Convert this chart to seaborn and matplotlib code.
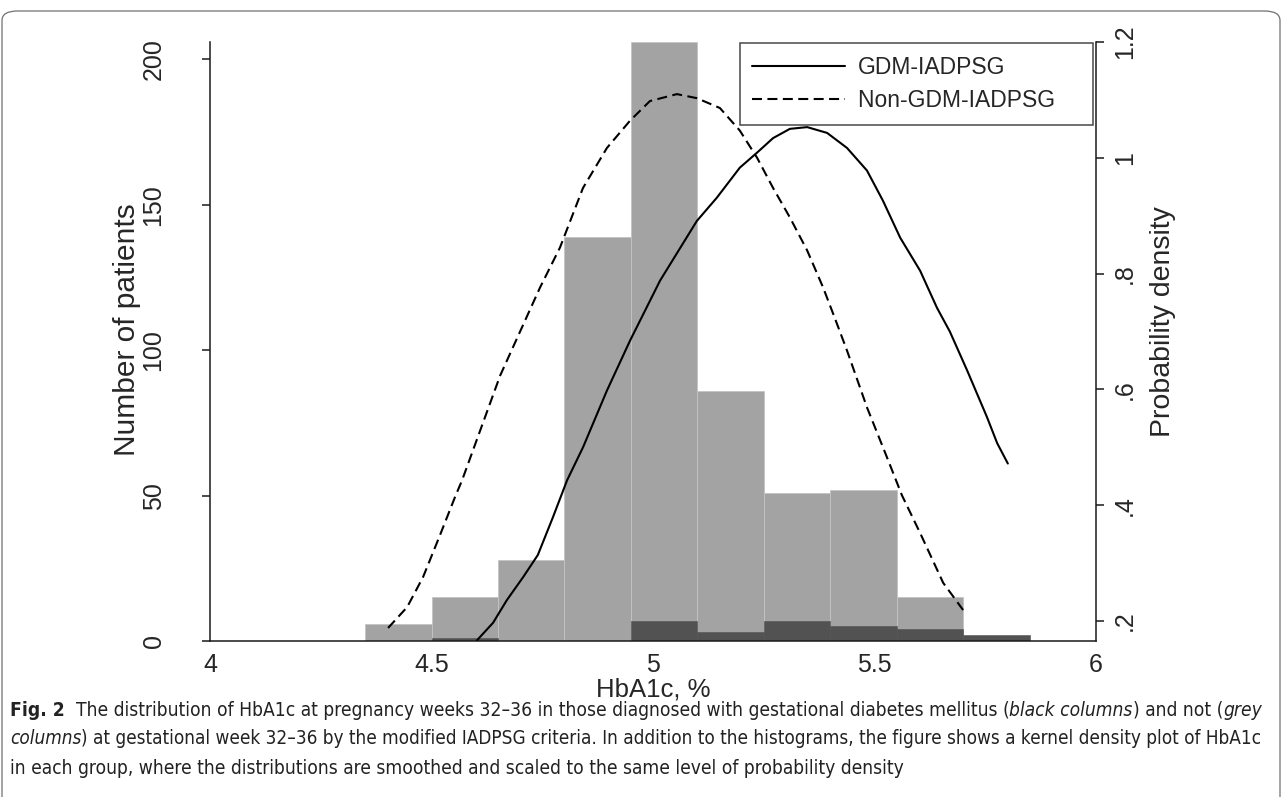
import matplotlib
matplotlib.use('Agg')
import matplotlib.pyplot as plt
from matplotlib.patches import FancyBboxPatch
import seaborn as sns

# Histogram bins (HbA1c, %) and counts
bin_edges = [4.35, 4.50, 4.65, 4.80, 4.95, 5.10, 5.25, 5.40, 5.55, 5.70, 5.85]
non_gdm_counts = [6, 15, 28, 139, 206, 86, 51, 52, 15, 0]
gdm_counts = [0, 1, 0, 0, 7, 3, 7, 5, 4, 2]

# Kernel density curves (right axis)
gdm_x = [4.603, 4.639, 4.670, 4.707, 4.740, 4.774, 4.806, 4.842, 4.896, 4.948,
         5.016, 5.099, 5.144, 5.196, 5.235, 5.271, 5.309, 5.348, 5.393, 5.438,
         5.483, 5.519, 5.558, 5.603, 5.641, 5.670, 5.709, 5.754, 5.777, 5.801]
gdm_y = [0.167, 0.197, 0.236, 0.276, 0.314, 0.379, 0.443, 0.500, 0.598, 0.684,
         0.788, 0.891, 0.931, 0.983, 1.009, 1.034, 1.050, 1.053, 1.043, 1.017,
         0.978, 0.926, 0.862, 0.805, 0.741, 0.700, 0.633, 0.552, 0.507, 0.472]

non_gdm_x = [4.402, 4.445, 4.481, 4.519, 4.553, 4.569, 4.655, 4.745, 4.790, 4.842,
             4.896, 4.948, 4.993, 5.054, 5.099, 5.151, 5.196, 5.235, 5.271, 5.309,
             5.348, 5.384, 5.411, 5.438, 5.483, 5.528, 5.562, 5.603, 5.655, 5.700]
non_gdm_y = [0.188, 0.224, 0.276, 0.348, 0.414, 0.443, 0.624, 0.776, 0.845, 0.948,
             1.017, 1.064, 1.098, 1.110, 1.103, 1.086, 1.047, 1.000, 0.948, 0.897,
             0.840, 0.776, 0.722, 0.667, 0.569, 0.483, 0.417, 0.352, 0.266, 0.219]

x_ticks = [4, 4.5, 5, 5.5, 6]
x_labels = ['4', '4.5', '5', '5.5', '6']
count_ticks = [0, 50, 100, 150, 200]
dens_ticks = [0.2, 0.4, 0.6, 0.8, 1.0, 1.2]
dens_labels = ['.2', '.4', '.6', '.8', '1', '1.2']

caption = [
    [('Fig. 2', 'bold', 'normal'),
     ('  The distribution of HbA1c at pregnancy weeks 32\u201336 in those diagnosed with gestational diabetes mellitus (', 'normal', 'normal'),
     ('black columns', 'normal', 'italic'),
     (') and not (', 'normal', 'normal'),
     ('grey', 'normal', 'italic')],
    [('columns', 'normal', 'italic'),
     (') at gestational week 32\u201336 by the modified IADPSG criteria. In addition to the histograms, the figure shows a kernel density plot of HbA1c', 'normal', 'normal')],
    [('in each group, where the distributions are smoothed and scaled to the same level of probability density', 'normal', 'normal')],
]

sns.set_style('white')
plt.rcParams['font.family'] = ['Liberation Sans', 'DejaVu Sans']

W, H = 1282, 797
fig = plt.figure(figsize=(W / 100, H / 100), dpi=100)
ax = fig.add_axes([210 / W, 1 - 641 / H, (1096 - 210) / W, (641 - 42) / H])

centers = [(a + b) / 2 for a, b in zip(bin_edges[:-1], bin_edges[1:])]
sns.histplot(x=centers, weights=non_gdm_counts, bins=bin_edges, ax=ax,
             color='#a3a3a3', alpha=1, edgecolor='#c4c4c4', linewidth=0.6)
sns.histplot(x=centers, weights=gdm_counts, bins=bin_edges, ax=ax,
             color='#525252', alpha=1, edgecolor='#525252', linewidth=0.4)

ax.set_xlim(4, 6)
ax.set_ylim(0, 206)
ax.set_xticks(x_ticks)
ax.set_xticklabels(x_labels)
ax.set_yticks(count_ticks)
ax.set_xlabel('HbA1c, %', fontsize=18.5, va='center')
ax.xaxis.set_label_coords(0.5, -(690 - 641) / 599)
ax.set_ylabel('Number of patients', fontsize=21.5, va='center')
ax.yaxis.set_label_coords(-(210 - 127) / 886, (641 - 330) / 599)

ax2 = ax.twinx()
sns.lineplot(x=gdm_x, y=gdm_y, ax=ax2, color='black', linewidth=1.5,
             sort=False, estimator=None, label='GDM-IADPSG')
sns.lineplot(x=non_gdm_x, y=non_gdm_y, ax=ax2, color='black', linewidth=1.5,
             sort=False, estimator=None, label='Non-GDM-IADPSG    ')
ax2.lines[1].set_dashes((4.8, 2.6))
ax2.set_ylim(0.1655, 1.2)
ax2.set_yticks(dens_ticks)
ax2.set_yticklabels(dens_labels)
ax2.set_ylabel('Probability density', fontsize=20.5, va='center')
ax2.yaxis.set_label_coords(1 + (1163 - 1096) / 886, (641 - 322) / 599)

for a in (ax, ax2):
    for s in a.spines.values():
        s.set_color('#1a1a1a')
        s.set_linewidth(1.1)
    a.spines['top'].set_visible(False)
    a.tick_params(length=6, width=1.1, color='#1a1a1a', labelsize=18, pad=6)
ax.tick_params(axis='y', pad=26)
ax.tick_params(axis='x', pad=3)
ax2.spines['left'].set_visible(False)
ax2.spines['bottom'].set_visible(False)
ax.spines['right'].set_visible(False)
plt.setp(ax.get_yticklabels(), rotation=90, va='center')
plt.setp(ax2.get_yticklabels(), rotation=90, va='center')

leg = ax2.legend(loc='upper right', bbox_to_anchor=(1093 / W, 1 - 43 / H),
                 bbox_transform=fig.transFigure, fontsize=16.5, frameon=True,
                 fancybox=False, edgecolor='#1a1a1a', handlelength=4.05,
                 handletextpad=0.55, borderpad=0.55, labelspacing=0.45,
                 borderaxespad=0)
leg.get_frame().set_linewidth(1.1)

# outer frame
frame = FancyBboxPatch((2 / W, -0.05), 1 - 4 / W, 1.05 - 11 / H,
                       boxstyle='round,pad=0,rounding_size=0.012',
                       transform=fig.transFigure, facecolor='none',
                       edgecolor='#707070', linewidth=0.9)
fig.patches.append(frame)

# caption, runs placed one after another, lines 1-2 justified to the width
cap_font = ['DejaVu Sans']
renderer = fig.canvas.get_renderer()


def line_width(runs, size):
    total = 0
    for text, weight, style in runs:
        t = fig.text(0, 0, text, fontsize=size, family=cap_font, weight=weight,
                     style=style, fontstretch='condensed')
        total += t.get_window_extent(renderer).width
        t.remove()
    return total


sizes = [10 * (1264 - 10) / line_width(caption[0], 10),
         10 * (1264 - 10) / line_width(caption[1], 10)]
sizes.append(sizes[0])
line_y = [710, 739, 768]
for runs, yy, size in zip(caption, line_y, sizes):
    x = 10
    for text, weight, style in runs:
        t = fig.text(x / W, 1 - yy / H, text, fontsize=size, family=cap_font,
                     weight=weight, style=style, fontstretch='condensed',
                     va='center', ha='left', color='#222222')
        x += t.get_window_extent(renderer).width

fig.savefig('out.png', dpi=100)
